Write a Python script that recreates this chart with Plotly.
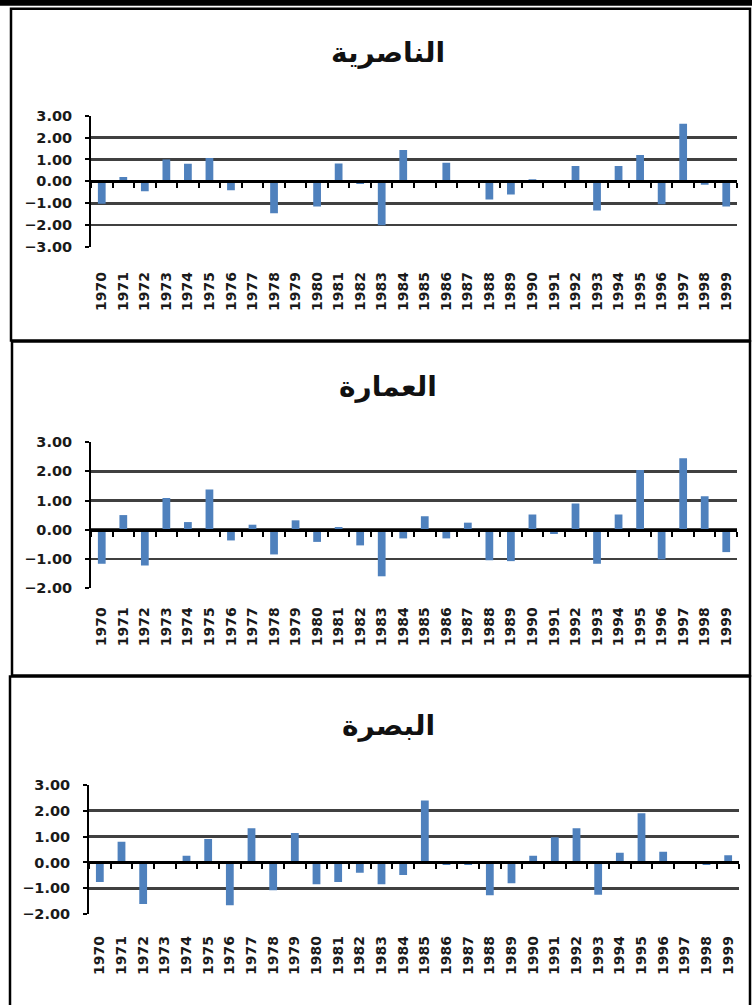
import plotly.graph_objects as go

years = [str(y) for y in range(1970, 2000)]
titles = ["الناصرية", "العمارة", "البصرة"]

nasiriya = [-1.02, 0.20, -0.45, 1.00, 0.80, 1.07, -0.40, 0.00, -1.45, 0.05,
            -1.15, 0.82, -0.12, -2.00, 1.43, 0.00, 0.85, 0.00, -0.83, -0.60,
            0.10, 0.00, 0.70, -1.33, 0.70, 1.20, -1.05, 2.63, -0.15, -1.15]
amara = [-1.17, 0.50, -1.23, 1.09, 0.26, 1.38, -0.37, 0.17, -0.85, 0.32,
         -0.42, 0.09, -0.54, -1.60, -0.30, 0.46, -0.30, 0.24, -1.05, -1.08,
         0.52, -0.15, 0.90, -1.17, 0.52, 2.05, -1.02, 2.45, 1.15, -0.77]
basra = [-0.75, 0.80, -1.60, 0.00, 0.26, 0.90, -1.65, 1.32, -1.07, 1.14,
         -0.84, -0.75, -0.40, -0.84, -0.48, 2.39, -0.10, -0.10, -1.26, -0.80,
         0.26, 0.97, 1.32, -1.25, 0.37, 1.90, 0.41, 0.00, -0.10, 0.28]

series = [nasiriya, amara, basra]
y_ranges = [(-3, 3), (-2, 3), (-2, 3)]

W, H = 752, 1005
# vertical calibration of the photographed page (measured)
S, OFF = 0.9845, 7.3


def vy(t):
    """target pixel row -> figure pixel row"""
    return (t - OFF) / S


def py(t):
    """target pixel row -> paper fraction"""
    return 1 - vy(t) / H


# target pixel layout of each panel
panels = [
    dict(x0=91, x1=737, yt=115, yb=246.5, ty=52, box=(11, 8, 750, 340), gap=25),
    dict(x0=91, x1=737, yt=441.7, yb=587.5, ty=386, box=(12, 341, 750, 675), gap=20),
    dict(x0=89, x1=739, yt=784.3, yb=914, ty=725, box=(10, 676, 750, 1012), gap=23),
]

BAR = "#4F81BD"
GRID = "#404040"
TICKFONT = dict(family="DejaVu Sans", size=14.5, color="#1a1a1a", weight="bold")
XFONT = dict(family="DejaVu Sans", size=14, color="#1a1a1a", weight="bold")

fig = go.Figure()
layout = dict(width=W, height=H, margin=dict(l=0, r=0, t=0, b=0),
              paper_bgcolor="white", plot_bgcolor="white", showlegend=False,
              bargap=0.64)
shapes = [dict(type="rect", xref="paper", yref="paper", x0=0, x1=1,
               y0=py(5), y1=py(-3), fillcolor="black", line=dict(width=0))]
annotations = []

for i, (vals, (ymin, ymax), p) in enumerate(zip(series, y_ranges, panels)):
    k = i + 1
    xa = "x" if k == 1 else f"x{k}"
    ya = "y" if k == 1 else f"y{k}"
    fig.add_trace(go.Bar(x=years, y=vals, marker=dict(color=BAR, line=dict(width=0)),
                         xaxis=xa, yaxis=ya))
    d0, d1 = py(p["yb"]), py(p["yt"])
    zero_pos = d0 + (0 - ymin) / (ymax - ymin) * (d1 - d0)
    yb_in, yt_in = vy(p["yb"]), vy(p["yt"])
    zero_in = yt_in + ymax / (ymax - ymin) * (yb_in - yt_in)
    layout[f"yaxis{k if k > 1 else ''}"] = dict(
        domain=[d0, d1], range=[ymin, ymax], dtick=1, tickformat=".2f",
        showgrid=True, gridcolor=GRID, gridwidth=2.5,
        zeroline=False, showline=True, linecolor="black", linewidth=2,
        ticks="outside", ticklen=4, tickwidth=2, tickcolor="black",
        tickfont=TICKFONT, ticklabelstandoff=10,
        anchor=xa, fixedrange=True)
    layout[f"xaxis{k if k > 1 else ''}"] = dict(
        domain=[p["x0"] / W, p["x1"] / W], type="category", range=[-0.5, 29.5],
        anchor="free", position=zero_pos,
        showline=True, linecolor="black", linewidth=3,
        ticks="outside", tickson="boundaries", ticklen=5, tickwidth=2,
        tickcolor="black", tickangle=-90, tickfont=XFONT,
        ticklabelstandoff=int(round(yb_in - zero_in + p["gap"] / S - 9.6)),
        showgrid=False, fixedrange=True)
    bx0, by0, bx1, by1 = p["box"]
    shapes.append(dict(type="rect", xref="paper", yref="paper",
                       x0=bx0 / W, x1=bx1 / W, y0=py(by1), y1=py(by0),
                       line=dict(color="black", width=2.5), layer="below"))
    annotations.append(dict(text=titles[i], xref="paper", yref="paper",
                            x=388 / W, y=py(p["ty"]), showarrow=False,
                            xanchor="center", yanchor="middle",
                            font=dict(family="DejaVu Sans", size=28, color="#111111",
                                      weight="bold")))

layout["shapes"] = shapes
layout["annotations"] = annotations
fig.update_layout(**layout)
fig.write_html(
    "out.html",
    config={"displayModeBar": False, "staticPlot": True},
    post_script=(
        "var h=document.documentElement, b=document.body;"
        "h.style.margin='0'; h.style.padding='0'; h.style.overflow='hidden';"
        "b.style.margin='0'; b.style.padding='0'; b.style.overflow='hidden';"
    ),
)
